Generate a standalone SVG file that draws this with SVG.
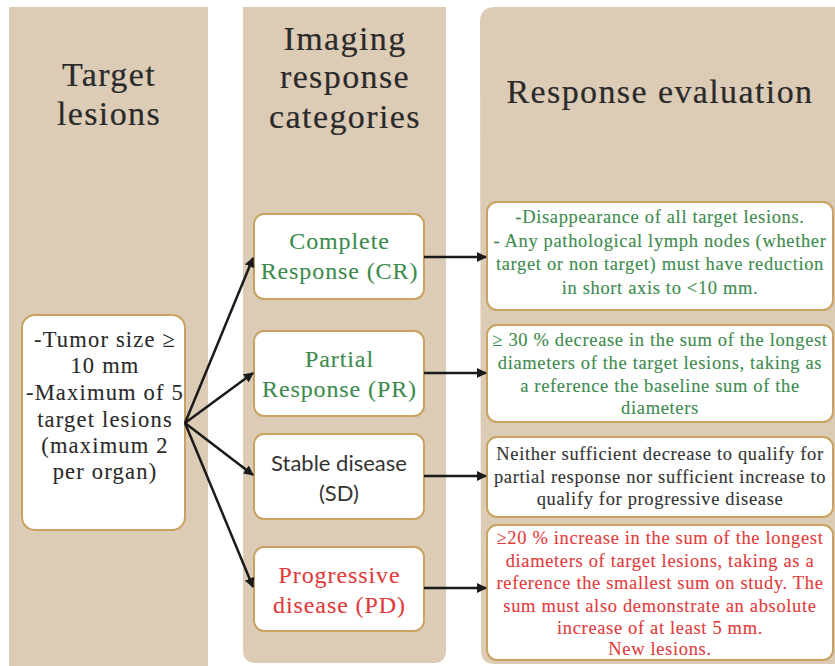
<svg xmlns="http://www.w3.org/2000/svg" width="835" height="666" viewBox="0 0 835 666">
<style>
.col{fill:#dccbb5}
.box{fill:#ffffff;stroke:#c9a263;stroke-width:2}
text{font-family:"Liberation Serif","Times New Roman",serif;text-anchor:middle;stroke-width:0.12px}
.title{font-size:34px;fill:#2a2a2a;stroke:#2a2a2a;letter-spacing:1.4px;stroke-width:0.2px}
.lt{font-size:22.5px;fill:#2a2a2a;stroke:#2a2a2a;letter-spacing:1.2px}
.cat{font-size:24px;letter-spacing:0.9px}
.ev{font-size:18.5px;letter-spacing:0.65px}
.green{fill:#3d8b4e;stroke:#3d8b4e}
.red{fill:#e23b3b;stroke:#e23b3b}
.dark{fill:#333333;stroke:#333333}
.sans{font-family:"Lato","Open Sans",sans-serif;font-size:22px;letter-spacing:0;stroke-width:0}
.conn line{stroke:#1a1a1a;stroke-width:2.5}
</style>
<defs>
<marker id="ah" viewBox="0 0 10 10" refX="9" refY="5" markerWidth="4" markerHeight="4" orient="auto" markerUnits="strokeWidth">
<path d="M0,0 L10,5 L0,10 Z" fill="#1a1a1a"/>
</marker>
</defs>
<rect width="835" height="666" fill="#ffffff"/>
<g id="columns">
<rect class="col" x="9" y="7" width="199" height="670"/>
<path class="col" d="M243,7 H446 V650 Q446,663 433,663 H256 Q243,663 243,650 Z"/>
<path class="col" d="M480,22 Q480,7 495,7 H835 V664 H495 Q481,664 481,650 Z"/>
</g>
<g id="headers">
<text class="title" x="109" y="86">Target</text>
<text class="title" x="109" y="125">lesions</text>
<text class="title" x="345" y="50">Imaging</text>
<text class="title" x="345" y="88">response</text>
<text class="title" x="345" y="128">categories</text>
<text class="title" x="660" y="103">Response evaluation</text>
</g>
<g id="target">
<rect class="box" x="22" y="315" width="163" height="215" rx="13"/>
<text class="lt" x="105" y="347">-Tumor size ≥</text>
<text class="lt" x="105" y="373">10 mm</text>
<text class="lt" x="105" y="400">-Maximum of 5</text>
<text class="lt" x="105" y="427">target lesions</text>
<text class="lt" x="105" y="453">(maximum 2</text>
<text class="lt" x="105" y="479">per organ)</text>
</g>
<g id="cr">
<rect class="box" x="254" y="214" width="170" height="85" rx="10"/>
<text class="cat green" x="339.5" y="249">Complete</text>
<text class="cat green" x="339.5" y="279">Response (CR)</text>
</g>
<g id="pr">
<rect class="box" x="254" y="331" width="170" height="85" rx="10"/>
<text class="cat green" x="339.5" y="367">Partial</text>
<text class="cat green" x="339.5" y="397">Response (PR)</text>
</g>
<g id="sd">
<rect class="box" x="254" y="434" width="170" height="85" rx="10"/>
<text class="sans dark" x="339" y="471">Stable disease</text>
<text class="sans dark" x="339" y="501">(SD)</text>
</g>
<g id="pd">
<rect class="box" x="254" y="547" width="170" height="84" rx="10"/>
<text class="cat red" x="339.5" y="583">Progressive</text>
<text class="cat red" x="339.5" y="613">disease (PD)</text>
</g>
<g id="cr-eval">
<rect class="box" x="487" y="202" width="346" height="108" rx="10"/>
<text class="ev green" x="660" y="223">-Disappearance of all target lesions.</text>
<text class="ev green" x="660" y="247">- Any pathological lymph nodes (whether</text>
<text class="ev green" x="660" y="270">target or non target) must have reduction</text>
<text class="ev green" x="660" y="294">in short axis to &lt;10 mm.</text>
</g>
<g id="pr-eval">
<rect class="box" x="487" y="325" width="346" height="97" rx="10"/>
<text class="ev green" x="660" y="346">≥ 30 % decrease in the sum of the longest</text>
<text class="ev green" x="660" y="369">diameters of the target lesions, taking as</text>
<text class="ev green" x="660" y="392">a reference the baseline sum of the</text>
<text class="ev green" x="660" y="414">diameters</text>
</g>
<g id="sd-eval">
<rect class="box" x="487" y="437" width="346" height="80" rx="10"/>
<text class="ev dark" x="660" y="460">Neither sufficient decrease to qualify for</text>
<text class="ev dark" x="660" y="483">partial response nor sufficient increase to</text>
<text class="ev dark" x="660" y="505">qualify for progressive disease</text>
</g>
<g id="pd-eval">
<rect class="box" x="487" y="525" width="346" height="135" rx="10"/>
<text class="ev red" x="660" y="544">≥20 % increase in the sum of the longest</text>
<text class="ev red" x="660" y="567">diameters of target lesions, taking as a</text>
<text class="ev red" x="660" y="589">reference the smallest sum on study. The</text>
<text class="ev red" x="660" y="612">sum must also demonstrate an absolute</text>
<text class="ev red" x="660" y="634">increase of at least 5 mm.</text>
<text class="ev red" x="660" y="655">New lesions.</text>
</g>
<g id="connectors" class="conn">
<line x1="185" y1="423" x2="253" y2="258" marker-end="url(#ah)"/>
<line x1="185" y1="423" x2="253" y2="373" marker-end="url(#ah)"/>
<line x1="185" y1="423" x2="253" y2="475" marker-end="url(#ah)"/>
<line x1="185" y1="423" x2="253" y2="587" marker-end="url(#ah)"/>
<line x1="424" y1="257" x2="486" y2="257" marker-end="url(#ah)"/>
<line x1="424" y1="373" x2="486" y2="373" marker-end="url(#ah)"/>
<line x1="424" y1="476" x2="486" y2="476" marker-end="url(#ah)"/>
<line x1="424" y1="588" x2="486" y2="588" marker-end="url(#ah)"/>
</g>
</svg>
